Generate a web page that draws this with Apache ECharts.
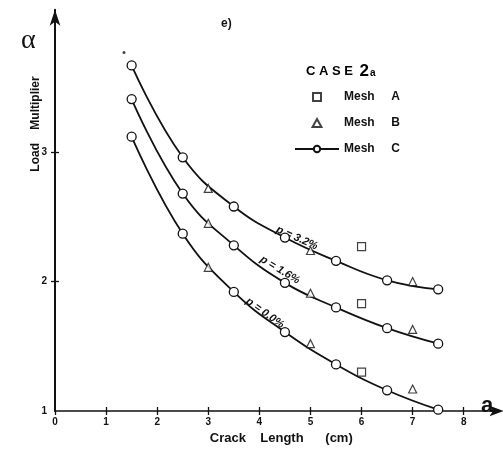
<!DOCTYPE html>
<html>
<head>
<meta charset="utf-8">
<script src="https://cdn.jsdelivr.net/npm/echarts@6/dist/echarts.min.js"></script>
<style>html,body{margin:0;padding:0;background:#fff}#c{width:503px;height:450px}</style>
</head>
<body>
<div id="c"></div>
<script>
// Crack length (cm) of Mesh C points
var xC = [1.5, 2.5, 3.5, 4.5, 5.5, 6.5, 7.5];
var meshC32 = [3.67, 2.96, 2.58, 2.34, 2.16, 2.01, 1.94];
var meshC16 = [3.41, 2.68, 2.28, 1.99, 1.80, 1.64, 1.52];
var meshC00 = [3.12, 2.37, 1.92, 1.61, 1.36, 1.16, 1.01];
// Mesh B
var xB = [3, 5, 7];
var meshB32 = [2.72, 2.24, 2.00];
var meshB16 = [2.45, 1.91, 1.63];
var meshB00 = [2.11, 1.52, 1.17];
// Mesh A
var xA = [6];
var meshA32 = [2.27];
var meshA16 = [1.83];
var meshA00 = [1.30];
// stray dot in the original
var strayDot = [[1.35, 3.77]];
var xTicks = [0, 1, 2, 3, 4, 5, 6, 7, 8];
var yTicks = [1, 2, 3];

function pairs(xs, ys) { return xs.map(function (x, i) { return [x, ys[i]]; }); }

var chart = echarts.init(document.getElementById('c'), null, {renderer: 'canvas'});
var FONT = '"Liberation Sans", Arial, sans-serif';
var black = '#111';

var lineSeries = function (ys) {
  return {
    name: 'Mesh C', type: 'line', smooth: 0.45,
    data: pairs(xC, ys),
    symbol: 'circle', symbolSize: 9,
    itemStyle: {color: '#fff', borderColor: black, borderWidth: 1.3},
    lineStyle: {color: black, width: 1.8},
    z: 3
  };
};

var option = {
  animation: false,
  backgroundColor: '#fff',
  grid: {left: 55, right: 3.5, top: 9.8, bottom: 31, containLabel: false},
  xAxis: [{
    type: 'value', min: 0, max: 8.7, interval: 1,
    axisLine: {show: true, lineStyle: {color: black, width: 1.6}, symbol: ['none', 'arrow'], symbolSize: [8, 14], symbolOffset: [0, 4]},
    axisTick: {show: true, length: 4, customValues: xTicks, lineStyle: {color: black, width: 1.3}},
    axisLabel: {customValues: xTicks, color: black, fontFamily: FONT, fontWeight: 'bold', fontSize: 10, margin: 6},
    splitLine: {show: false},
    name: 'Crack    Length      (cm)', nameLocation: 'middle', nameGap: 21,
    nameTextStyle: {color: black, fontFamily: FONT, fontWeight: 'bold', fontSize: 13, padding: [0, 0, 0, 8]}
  }, {
    type: 'value', min: 0, max: 8.7, position: 'bottom',
    axisLine: {show: false},
    axisTick: {show: true, inside: true, length: 4, customValues: xTicks.slice(1), lineStyle: {color: black, width: 1.3}},
    axisLabel: {show: false}, splitLine: {show: false}
  }],
  yAxis: [{
    type: 'value', min: 1, max: 4.1, interval: 1,
    axisLine: {show: true, lineStyle: {color: black, width: 2}, symbol: ['none', 'arrow'], symbolSize: [8, 16]},
    axisTick: {show: true, length: 4, customValues: [2, 3], lineStyle: {color: black, width: 1.3}},
    axisLabel: {customValues: yTicks, color: black, fontFamily: FONT, fontWeight: 'bold', fontSize: 10, margin: 8},
    splitLine: {show: false}
  }, {
    type: 'value', min: 1, max: 4.1, position: 'left',
    axisLine: {show: false},
    axisTick: {show: true, inside: true, length: 4, customValues: [2, 3], lineStyle: {color: black, width: 1.3}},
    axisLabel: {show: false}, splitLine: {show: false}
  }],
  legend: {
    orient: 'vertical', left: 294, top: 90, padding: 0,
    itemWidth: 44, itemHeight: 8, itemGap: 12,
    symbolKeepAspect: true,
    data: [
      {name: 'Mesh A', icon: 'path://M0,0H10V10H0Z'},
      {name: 'Mesh B', icon: 'path://M5,0L10,9H0Z'},
      {name: 'Mesh C'}
    ],
    formatter: function (n) { return n.replace(' ', '     '); },
    textStyle: {color: black, fontFamily: FONT, fontWeight: 'bold', fontSize: 12, lineHeight: 14},
    selectedMode: false
  },
  series: [
    lineSeries(meshC32), lineSeries(meshC16), lineSeries(meshC00),
    {
      name: 'Mesh A', type: 'scatter', symbol: 'rect', symbolSize: 8,
      data: pairs(xA, meshA32).concat(pairs(xA, meshA16), pairs(xA, meshA00)),
      itemStyle: {color: '#fff', borderColor: black, borderWidth: 1.2}, z: 4
    },
    {
      name: 'Mesh B', type: 'scatter', symbol: 'triangle', symbolSize: 8,
      data: pairs(xB, meshB32).concat(pairs(xB, meshB16), pairs(xB, meshB00)),
      itemStyle: {color: '#fff', borderColor: black, borderWidth: 1.2}, z: 4
    },
    {
      name: 'dot', type: 'scatter', symbol: 'circle', symbolSize: 3,
      data: strayDot, itemStyle: {color: black}, silent: true
    }
  ],
  graphic: [
    {type: 'text', left: 21, top: 27, style: {text: 'α', font: '28px "Liberation Serif", "DejaVu Serif", serif', fill: black}},
    {type: 'text', x: 36, y: 124, rotation: Math.PI / 2, style: {text: 'Load    Multiplier', font: 'bold 12px ' + FONT, fill: black, align: 'center', verticalAlign: 'middle'}},
    {type: 'text', left: 481, top: 395, style: {text: 'a', font: 'bold 22px ' + FONT, fill: black}},
    {type: 'text', left: 221, top: 18, style: {text: 'e)', font: 'bold 12px ' + FONT, fill: black}},
    {type: 'text', left: 306, top: 63, style: {
      text: '{c|C A S E}  {n|2}{s|a}',
      rich: {
        c: {fontSize: 13, fontWeight: 'bold', fontFamily: FONT, color: black},
        n: {fontSize: 17, fontWeight: 'bold', fontFamily: FONT, color: black},
        s: {fontSize: 10, fontWeight: 'bold', fontFamily: FONT, color: black, padding: [4, 0, 0, 1]}
      }
    }},
    {type: 'text', x: 297, y: 238, rotation: -0.42, style: {text: 'p = 3.2%', font: 'italic bold 11px ' + FONT, fill: black, align: 'center', verticalAlign: 'middle'}},
    {type: 'text', x: 280, y: 270, rotation: -0.55, style: {text: 'p = 1.6%', font: 'italic bold 11px ' + FONT, fill: black, align: 'center', verticalAlign: 'middle'}},
    {type: 'text', x: 265, y: 313, rotation: -0.62, style: {text: 'p = 0.0%', font: 'italic bold 11px ' + FONT, fill: black, align: 'center', verticalAlign: 'middle'}}
  ]
};
chart.setOption(option);
</script>
</body>
</html>
